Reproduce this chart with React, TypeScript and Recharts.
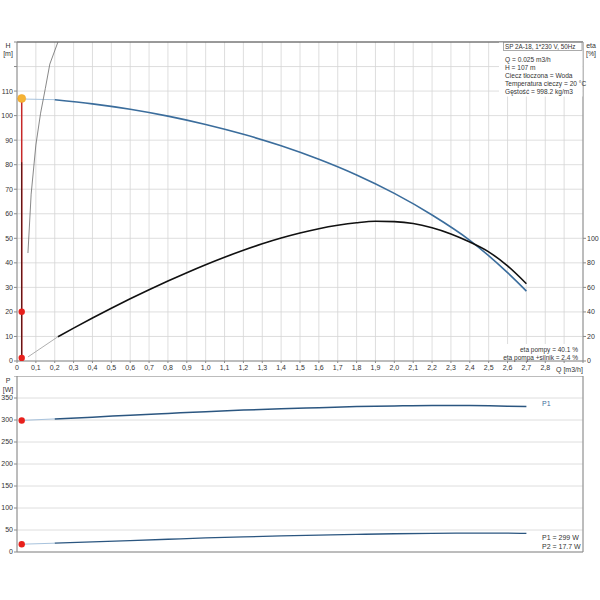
import { ComposedChart, Line, XAxis, YAxis, CartesianGrid, ReferenceLine } from "recharts";

// flow Q [m3/h]
const Q_TICKS = [0, 0.1, 0.2, 0.3, 0.4, 0.5, 0.6, 0.7, 0.8, 0.9, 1, 1.1, 1.2, 1.3, 1.4, 1.5, 1.6, 1.7, 1.8, 1.9, 2, 2.1, 2.2, 2.3, 2.4, 2.5, 2.6, 2.7, 2.8, 2.9, 3];
const H_TICKS = [0, 10, 20, 30, 40, 50, 60, 70, 80, 90, 100, 110, 120, 130];
const ETA_TICKS = [0, 20, 40, 60, 80, 100];
const P_TICKS = [0, 50, 100, 150, 200, 250, 300, 350, 400];

// head curve
const H_Q = [0.2, 0.4, 0.6, 0.8, 1.0, 1.2, 1.4, 1.6, 1.8, 2.0, 2.2, 2.4, 2.6, 2.7];
const H_VAL = [106.5, 104.8, 102.6, 99.8, 96.4, 92.4, 87.7, 82.2, 75.8, 68.3, 59.5, 49.2, 36, 28.5];
const H_EXT_Q = [0, 0.2];
const H_EXT_VAL = [106.8, 106.5];

// efficiency curve [%]
const ETA_Q = [0.217, 0.3, 0.4, 0.5, 0.6, 0.7, 0.8, 0.9, 1.0, 1.1, 1.2, 1.3, 1.4, 1.5, 1.6, 1.7, 1.8, 1.9, 2.0, 2.1, 2.2, 2.3, 2.4, 2.5, 2.6, 2.7];
const ETA_VAL = [19.8, 26.8, 35, 43, 50.7, 58.1, 65.2, 72, 78.5, 84.6, 90.3, 95.5, 100.2, 104.3, 107.8, 110.6, 112.7, 113.9, 113.6, 112.1, 108.6, 103.6, 97, 89, 77.5, 63];
const ETA_EXT_Q = [0.058, 0.217];
const ETA_EXT_VAL = [3.3, 19.8];

// steep thin curve
const STEEP_Q = [0.058, 0.075, 0.1, 0.125, 0.15, 0.174, 0.217];
const STEEP_VAL = [44, 68, 88, 101, 111, 121, 130];

// duty point
const DUTY_Q = 0.025;
const DUTY_H = 107;
const ETA_PUMP = 40.1;
const ETA_TOTAL = 2.4;
const P1_DUTY = 299;
const P2_DUTY = 17.7;

// power curves
const P_Q = [0.2, 0.4, 0.6, 0.8, 1.0, 1.2, 1.4, 1.6, 1.8, 2.0, 2.2, 2.4, 2.6, 2.7];
const P1_VAL = [302.5, 306.5, 311, 315, 319, 322.5, 325.5, 328, 330.5, 332, 333, 333, 331.5, 330.5];
const P2_VAL = [20, 23, 26, 29, 32, 34.5, 36.5, 38.5, 40, 41.5, 42.5, 43, 43, 42.5];
const P1_EXT_VAL = [299, 302.5];
const P2_EXT_VAL = [17.7, 20];
const P_EXT_Q = [0.025, 0.2];

const INFO = [
  "Q = 0.025 m3/h",
  "H = 107 m",
  "Ciecz tłoczona = Woda",
  "Temperatura cieczy = 20 °C",
  "Gęstość = 998.2 kg/m3",
];

const pts = (qs: number[], vs: number[]) => qs.map((q, i) => ({ q, v: vs[i] }));

const FONT = "'Liberation Sans', Arial, sans-serif";
const tickStyle = { fontSize: 7, fill: "#333", fontFamily: FONT };
const GRID = "#d6d6d6";
const AXIS = "#8a8a8a";
const BLUE = "#3b6d9c";
const DARKBLUE = "#2b5680";

const fmtQ = (v: number) => (v > 2.85 ? "" : v === 0 ? "0" : v.toFixed(1).replace(".", ","));

export default function App() {
  return (
    <div style={{ position: "absolute", left: 0, top: 0, width: 600, height: 600, background: "#fff", fontFamily: FONT }}>
      <div style={{ position: "absolute", left: 0, top: 0 }}>
        <ComposedChart width={600} height={376} margin={{ top: 42, right: 0, bottom: 0, left: 0 }}>
          <CartesianGrid stroke={GRID} strokeWidth={0.8} yAxisId="h" />
          <XAxis
            dataKey="q"
            type="number"
            domain={[0, 3]}
            ticks={Q_TICKS}
            interval={0}
            tickFormatter={fmtQ}
            height={15}
            tickSize={2}
            tickMargin={2}
            tick={tickStyle}
            stroke={AXIS}
            allowDataOverflow
          />
          <YAxis
            yAxisId="h"
            type="number"
            domain={[0, 130]}
            ticks={H_TICKS}
            interval={0}
            tickFormatter={(v: number) => (v > 110 ? "" : String(v))}
            width={17}
            tickSize={3}
            tickMargin={1}
            tick={tickStyle}
            stroke={AXIS}
            allowDataOverflow
          />
          <YAxis
            yAxisId="eta"
            orientation="right"
            type="number"
            domain={[0, 260]}
            ticks={ETA_TICKS}
            interval={0}
            width={17}
            tickSize={3}
            tickMargin={1}
            tick={tickStyle}
            stroke={AXIS}
            allowDataOverflow
          />
          <ReferenceLine yAxisId="h" y={130} stroke="#444" strokeWidth={1} />

          <Line yAxisId="h" data={pts(H_EXT_Q, H_EXT_VAL)} dataKey="v" type="linear" stroke="#a8c3dd" strokeWidth={1} dot={false} isAnimationActive={false} />
          <Line yAxisId="h" data={pts(H_Q, H_VAL)} dataKey="v" type="monotone" stroke={BLUE} strokeWidth={1.6} dot={false} isAnimationActive={false} />
          <Line yAxisId="eta" data={pts(ETA_EXT_Q, ETA_EXT_VAL)} dataKey="v" type="linear" stroke="#9a9a9a" strokeWidth={0.8} dot={false} isAnimationActive={false} />
          <Line yAxisId="eta" data={pts(ETA_Q, ETA_VAL)} dataKey="v" type="monotone" stroke="#111" strokeWidth={1.6} dot={false} isAnimationActive={false} />
          <Line yAxisId="h" data={pts(STEEP_Q, STEEP_VAL)} dataKey="v" type="linear" stroke="#6a6a6a" strokeWidth={0.8} dot={false} isAnimationActive={false} />

          <Line yAxisId="h" data={pts([DUTY_Q, DUTY_Q], [0, DUTY_H])} dataKey="v" type="linear" stroke="#c62828" strokeWidth={1.5} dot={false} isAnimationActive={false} />
          <Line yAxisId="eta" data={pts([DUTY_Q, DUTY_Q], [ETA_TOTAL, 162])} dataKey="v" type="linear" stroke="#4a1212" strokeWidth={1} dot={false} isAnimationActive={false} />
          <Line yAxisId="h" data={pts([DUTY_Q], [DUTY_H])} dataKey="v" stroke="none" dot={{ r: 4, fill: "#f5b335", stroke: "#f0a020", strokeWidth: 0.5 }} isAnimationActive={false} />
          <Line yAxisId="eta" data={pts([DUTY_Q, DUTY_Q], [ETA_PUMP, ETA_TOTAL])} dataKey="v" stroke="none" dot={{ r: 3.2, fill: "#e8201c", stroke: "none" }} isAnimationActive={false} />
        </ComposedChart>
      </div>

      <div style={{ position: "absolute", left: 0, top: 376 }}>
        <ComposedChart width={600} height={224} margin={{ top: 0, right: 0, bottom: 0, left: 0 }}>
          <CartesianGrid stroke={GRID} strokeWidth={0.8} yAxisId="p" />
          <XAxis
            dataKey="q"
            type="number"
            domain={[0, 3]}
            ticks={Q_TICKS}
            interval={0}
            tick={false}
            tickSize={0}
            height={48}
            stroke={AXIS}
          />
          <YAxis
            yAxisId="p"
            type="number"
            domain={[0, 400]}
            ticks={P_TICKS}
            interval={0}
            tickFormatter={(v: number) => (v > 350 ? "" : String(v))}
            width={17}
            tickSize={3}
            tickMargin={1}
            tick={tickStyle}
            stroke={AXIS}
          />
          <YAxis yAxisId="r" orientation="right" width={17} domain={[0, 400]} tick={false} tickSize={0} stroke={AXIS} />
          <ReferenceLine yAxisId="p" y={400} stroke={AXIS} strokeWidth={1} />

          <Line yAxisId="p" data={pts(P_EXT_Q, P1_EXT_VAL)} dataKey="v" type="linear" stroke="#a8c3dd" strokeWidth={1} dot={false} isAnimationActive={false} />
          <Line yAxisId="p" data={pts(P_Q, P1_VAL)} dataKey="v" type="monotone" stroke={DARKBLUE} strokeWidth={1.5} dot={false} isAnimationActive={false} />
          <Line yAxisId="p" data={pts(P_EXT_Q, P2_EXT_VAL)} dataKey="v" type="linear" stroke="#a8c3dd" strokeWidth={1} dot={false} isAnimationActive={false} />
          <Line yAxisId="p" data={pts(P_Q, P2_VAL)} dataKey="v" type="monotone" stroke={DARKBLUE} strokeWidth={1.3} dot={false} isAnimationActive={false} />
          <Line yAxisId="p" data={pts([DUTY_Q, DUTY_Q], [P1_DUTY, P2_DUTY])} dataKey="v" stroke="none" dot={{ r: 3.2, fill: "#e8201c", stroke: "none" }} isAnimationActive={false} />
        </ComposedChart>
      </div>

      {/* titles, info boxes */}
      <svg width={600} height={600} style={{ position: "absolute", left: 0, top: 0, pointerEvents: "none" }} fontFamily={FONT} fontSize={7} fill="#333">
        <text x={8} y={48} textAnchor="middle">H</text>
        <text x={8} y={56} textAnchor="middle">[m]</text>
        <text x={591} y={48} textAnchor="middle">eta</text>
        <text x={591} y={56} textAnchor="middle">[%]</text>
        <text x={8} y={383} textAnchor="middle">P</text>
        <text x={8} y={392} textAnchor="middle">[W]</text>

        <rect x={499} y={42.5} width={83.5} height={54} fill="#fff" />
        <rect x={503.5} y={42.5} width={78.5} height={8} fill="#fff" stroke="#888" strokeWidth={0.7} />
        <text x={505} y={49} fontSize={6.3}>SP 2A-18, 1*230 V, 50Hz</text>
        {INFO.map((s, i) => (
          <text key={s} x={505} y={62 + i * 8} fontSize={6.6}>{s}</text>
        ))}

        <rect x={501} y={344} width={80} height={16} fill="#fff" />
        <text x={578} y={352} textAnchor="end" fontSize={6.5}>eta pompy = {ETA_PUMP} %</text>
        <text x={578} y={360} textAnchor="end" fontSize={6.5}>eta pompa +silnik = {ETA_TOTAL} %</text>
        <text x={556} y={372}>Q [m3/h]</text>

        <text x={542} y={406} fill={BLUE}>P1</text>
        <rect x={540} y={532} width={42} height={19} fill="#fff" />
        <text x={542} y={540}>P1 = {P1_DUTY} W</text>
        <text x={542} y={549}>P2 = {P2_DUTY} W</text>
      </svg>
    </div>
  );
}
